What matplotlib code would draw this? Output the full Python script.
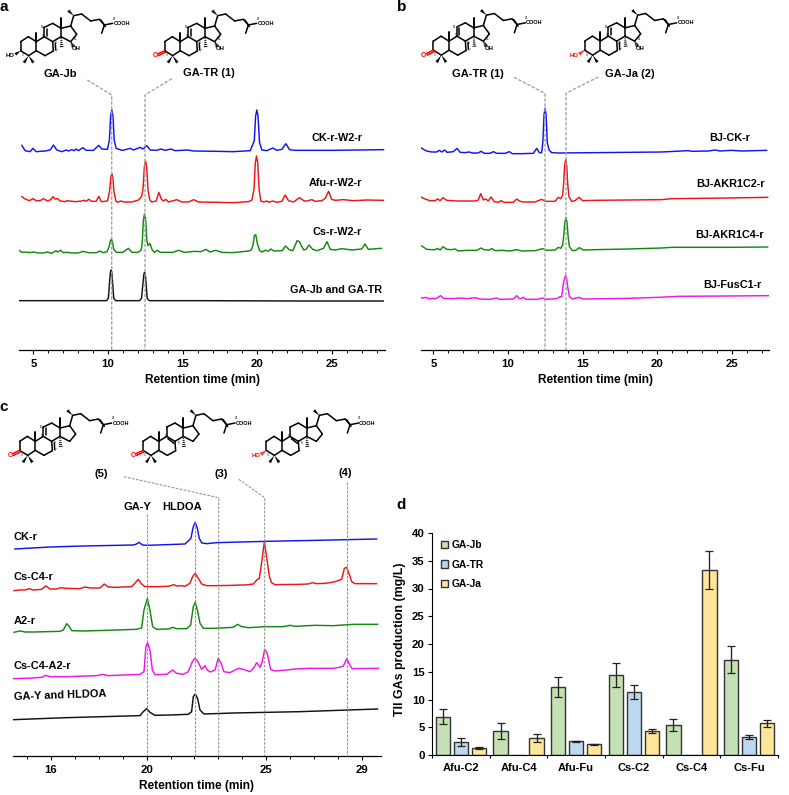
import matplotlib
matplotlib.use('Agg')
import matplotlib.pyplot as plt
from matplotlib.patches import Polygon
import numpy as np

W, H = 789, 795
plt.rcParams['font.family'] = ['Liberation Sans', 'DejaVu Sans']
plt.rcParams['font.weight'] = 'bold'

# ---------------------- panel a traces (min, signal) ---------------------- #
a_ck_rt = [4.22, 4.44, 4.78, 4.96, 5.18, 5.78, 6.12, 6.34, 6.56, 6.9, 7.19, 7.35, 7.57, 7.73, 7.86, 8.02, 8.31, 8.53, 9.02, 9.38, 9.58, 9.96, 10.09, 10.17, 10.25, 10.33, 10.41, 10.54, 10.92, 11.08, 11.48, 11.7, 12.15, 12.33, 12.6, 12.82, 13.27, 13.54, 13.83, 14.21, 14.5, 15.35, 15.73, 17.29, 18.41, 19.53, 19.8, 19.89, 19.97, 20.05, 20.15, 20.31, 20.64, 21.04, 21.31, 21.65, 21.92, 22.16, 22.54, 25.11, 28.46]
a_ck_sig = [16, 0, -3, 7, -3, -1, 2, 17, 2, -3, 2, -1, 3, 0, 5, 0, 9, 1, 1, 16, 5, 4, 32, 104, 122, 104, 32, 7, 1, 2, 7, 2, 10, 5, 15, 2, 1, 5, 1, 5, 0, 2, -1, -2, -3, 0, 30, 104, 122, 104, 25, 2, 0, 8, 1, 4, 21, 3, 1, 1, 3]
a_afu_rt = [4.22, 4.44, 4.73, 4.96, 5.18, 5.45, 5.67, 5.94, 6.16, 6.3, 6.45, 6.61, 6.79, 7.12, 7.23, 7.79, 8.24, 8.4, 8.53, 8.71, 8.91, 9.2, 9.38, 9.54, 9.96, 10.1, 10.18, 10.25, 10.32, 10.39, 10.52, 10.63, 10.85, 11.08, 11.59, 12.04, 12.24, 12.34, 12.43, 12.51, 12.59, 12.68, 12.8, 12.93, 13.22, 13.4, 13.58, 13.72, 13.87, 14.05, 14.61, 14.94, 15.39, 15.73, 16.06, 17.29, 18.41, 19.41, 19.64, 19.78, 19.87, 19.95, 20.03, 20.12, 20.24, 20.42, 20.64, 20.78, 21.04, 21.31, 21.65, 21.87, 22.09, 22.43, 22.83, 23.15, 23.32, 23.66, 23.88, 24.33, 24.55, 24.78, 24.98, 25.22, 25.78, 26.45, 27.35, 28.46]
a_afu_sig = [13, 6, 1, 7, 1, 1, 7, 0, 4, 13, 6, 7, 0, -2, 1, -2, 0, 2, -1, 5, -1, -1, 14, -2, 0, 30, 70, 83, 70, 30, 0, -4, 0, -3, -3, 3, 13, 35, 102, 120, 102, 30, 3, -3, 0, 26, 5, 0, 5, -3, 4, -3, -3, 4, -3, -4, -5, -2, 3, 35, 115, 135, 115, 35, 0, -3, 0, -4, 0, -4, -1, 18, 1, -3, 10, 0, 0, 4, -1, 1, 8, 29, 5, 2, 4, 1, 3, 2]
a_cs_rt = [4.04, 4.22, 4.44, 4.73, 5.0, 5.33, 5.67, 5.93, 6.22, 6.51, 6.62, 6.82, 7.0, 7.29, 7.56, 8.0, 8.33, 8.67, 9.22, 9.44, 9.67, 9.93, 10.07, 10.15, 10.22, 10.3, 10.38, 10.56, 11.0, 11.36, 11.6, 12.0, 12.22, 12.29, 12.37, 12.44, 12.52, 12.6, 12.67, 12.8, 12.96, 13.11, 13.31, 13.49, 14.33, 14.73, 15.11, 15.78, 16.22, 16.56, 16.82, 17.22, 17.62, 18.33, 19.44, 19.6, 19.71, 19.8, 19.9, 20.0, 20.16, 20.33, 20.56, 20.73, 20.91, 21.11, 21.67, 21.89, 22.16, 22.38, 22.67, 22.82, 23.11, 23.27, 23.47, 23.71, 24.0, 24.44, 24.67, 24.89, 25.22, 25.67, 26.33, 27.0, 27.22, 27.44, 28.33]
a_cs_sig = [6, 0, 1, -1, 1, -2, -2, 1, -3, 5, 1, 6, -1, 0, -2, -2, 3, -1, -1, 4, -1, 2, 17, 34, 40, 30, 9, 0, 0, 12, 0, 0, 7, 30, 98, 115, 98, 35, 20, 27, 7, 0, 6, 0, 0, 6, 0, 3, 2, 9, 1, 6, 0, -1, 4, 7, 20, 50, 53, 27, 5, 1, 7, 3, 10, 4, 5, 19, 7, 5, 35, 32, 7, 9, 22, 9, 5, 12, 32, 9, 7, 11, 7, 10, 25, 9, 12]
a_std_rt = [4.04, 9.89, 10.02, 10.11, 10.16, 10.2, 10.25, 10.29, 10.38, 10.51, 12.11, 12.24, 12.36, 12.4, 12.44, 12.49, 12.53, 12.62, 12.76, 16.11, 22.78, 28.44]
a_std_sig = [0, 0, 7, 62, 86, 92, 86, 62, 7, 0, 0, 7, 62, 79, 85, 79, 62, 7, 0, 0, -1, -1]

# ---------------------- panel b traces ---------------------- #
b_ck_rt = [4.17, 4.33, 4.55, 4.89, 5.22, 5.4, 5.56, 5.76, 5.92, 6.34, 6.58, 6.79, 7.12, 7.39, 7.61, 8.01, 8.19, 8.42, 8.79, 9.02, 9.24, 9.8, 10.09, 10.29, 10.92, 11.7, 11.92, 12.1, 12.25, 12.33, 12.41, 12.48, 12.55, 12.63, 12.75, 12.92, 13.37, 15.83, 18.06, 20.29, 22.08, 22.3, 23.42, 23.86, 24.2, 24.98, 25.65, 27.32]
b_ck_sig = [15, 10, 5, 2, 2, 7, 2, 8, 1, 3, 13, 1, 0, 2, -1, -1, 4, -2, -2, 3, -2, -2, 3, -3, -3, -2, 13, 0, 0, 30, 113, 133, 113, 30, 8, 0, -1, 0, 1, 2, 6, 4, 5, 8, 5, 7, 5, 7]
b_c2_rt = [4.11, 4.44, 4.78, 5.11, 5.29, 5.45, 5.65, 5.89, 6.56, 7.79, 8.01, 8.17, 8.35, 8.5, 8.68, 8.86, 9.08, 9.35, 9.53, 9.75, 10.36, 10.58, 10.8, 11.03, 11.81, 12.25, 12.52, 13.15, 13.37, 13.53, 13.66, 13.72, 13.79, 13.86, 13.93, 14.0, 14.08, 14.26, 14.49, 14.75, 15.0, 15.83, 18.06, 20.29, 20.96, 24.75, 27.39]
b_c2_sig = [13, 6, 1, 1, 6, 1, 10, 2, 0, 0, 3, 22, 3, 6, 0, 12, -2, -4, 1, -4, -4, 6, -1, -3, -3, 5, -1, -1, 11, 7, 18, 50, 106, 125, 106, 50, 13, -1, 1, 11, 1, 2, 3, 4, 7, 9, 11]
b_c4_rt = [4.11, 4.33, 4.55, 4.89, 5.11, 5.27, 5.45, 5.65, 5.89, 6.23, 6.45, 6.67, 7.23, 7.9, 8.19, 8.42, 8.57, 8.68, 8.91, 9.13, 9.58, 10.13, 10.58, 10.92, 11.81, 12.32, 12.59, 13.15, 13.37, 13.53, 13.66, 13.73, 13.81, 13.88, 13.95, 14.03, 14.11, 14.31, 14.53, 14.78, 15.04, 15.83, 18.06, 20.29, 20.96, 24.75, 27.39]
b_c4_sig = [16, 11, 4, 3, 3, 7, 2, 12, 4, 3, 5, -1, 1, 1, 8, 2, 3, 1, 6, 0, 1, -1, 3, -1, 0, 6, 1, 2, 10, 7, 17, 45, 85, 100, 85, 40, 12, 0, 1, 9, 2, 3, 5, 8, 10, 10, 11]
b_fus_rt = [4.17, 4.33, 4.49, 4.67, 5.22, 5.47, 5.69, 6.23, 6.9, 7.23, 7.79, 8.13, 8.79, 9.2, 9.46, 10.36, 10.58, 10.76, 10.87, 11.03, 11.21, 11.92, 12.32, 12.52, 13.26, 13.48, 13.59, 13.71, 13.79, 13.86, 13.93, 14.0, 14.11, 14.31, 14.75, 15.04, 16.72, 18.06, 20.07, 21.41, 24.75, 27.43]
b_fus_sig = [4, 3, 5, 1, 2, 10, 2, 1, 3, 1, 4, 0, -1, 3, -1, 0, 10, 1, 1, 5, -1, -1, 3, -1, 1, 7, 6, 47, 63, 70, 60, 35, 7, 0, 5, 0, 1, 2, 5, 8, 9, 10]

# ---------------------- panel c traces ---------------------- #
c_ck_rt = [14.5, 15.96, 17.35, 19.44, 19.55, 19.68, 19.83, 20.0, 20.84, 21.6, 21.74, 21.85, 21.95, 22.03, 22.12, 22.2, 22.31, 22.51, 22.92, 25.01, 27.1, 29.61]
c_ck_sig = [0, 6, 9, 12, 14, 20, 12, 11, 13, 15, 24, 32, 67, 80, 62, 32, 18, 16, 19, 23, 26, 30]
c_c4_rt = [14.46, 14.71, 14.92, 15.1, 15.26, 15.61, 15.79, 15.96, 16.24, 16.42, 16.63, 17.21, 17.42, 17.63, 18.05, 18.23, 18.4, 18.68, 19.37, 19.51, 19.65, 19.79, 19.93, 20.42, 20.91, 21.14, 21.25, 21.46, 21.6, 21.81, 21.92, 22.03, 22.16, 22.3, 22.51, 22.92, 23.62, 23.93, 24.11, 24.46, 24.6, 24.71, 24.82, 24.92, 25.01, 25.13, 25.22, 25.36, 26.41, 26.75, 26.94, 27.1, 27.45, 27.66, 27.87, 28.15, 28.26, 28.36, 28.45, 28.57, 28.7, 29.61]
c_c4_sig = [0, 2, 2, 6, 2, 4, 14, 5, 5, 9, 7, 6, 11, 8, 8, 20, 11, 10, 12, 22, 34, 20, 12, 12, 13, 18, 14, 15, 13, 22, 42, 52, 37, 20, 15, 15, 16, 17, 17, 20, 32, 37, 92, 147, 102, 42, 24, 18, 19, 20, 24, 21, 22, 24, 27, 34, 67, 70, 52, 27, 21, 21]
c_a2_rt = [14.46, 14.64, 14.74, 14.92, 15.26, 16.38, 16.52, 16.66, 16.77, 16.87, 17.35, 18.33, 19.58, 19.79, 19.89, 20.03, 20.14, 20.25, 20.42, 20.91, 21.09, 21.25, 21.67, 21.84, 21.95, 22.03, 22.12, 22.23, 22.37, 22.79, 23.62, 23.8, 23.97, 24.25, 25.01, 25.71, 25.99, 26.2, 27.03, 27.8, 28.64, 29.65]
c_a2_sig = [0, 3, 4, 1, 1, 3, 7, 26, 17, 5, 4, 6, 9, 13, 67, 101, 67, 17, 9, 10, 15, 11, 11, 22, 77, 90, 67, 27, 12, 12, 15, 24, 17, 14, 17, 17, 21, 18, 21, 20, 24, 24]
c_mix_rt = [14.43, 15.26, 15.61, 15.79, 15.96, 16.66, 17.91, 18.19, 18.36, 18.75, 19.72, 19.89, 19.97, 20.04, 20.14, 20.24, 20.35, 20.84, 21.09, 21.25, 21.53, 21.74, 21.91, 22.01, 22.12, 22.3, 22.44, 22.53, 22.67, 22.86, 22.99, 23.11, 23.23, 23.48, 23.69, 23.86, 24.04, 24.32, 24.46, 24.6, 24.74, 24.83, 24.93, 25.04, 25.18, 25.36, 25.85, 26.2, 26.82, 27.8, 28.05, 28.22, 28.36, 28.5, 28.59, 29.68]
c_mix_sig = [0, 2, 4, 10, 6, 6, 9, 13, 9, 10, 13, 21, 96, 108, 86, 26, 12, 13, 26, 16, 13, 21, 51, 61, 54, 28, 39, 26, 20, 26, 61, 46, 21, 18, 26, 31, 28, 21, 31, 48, 34, 51, 88, 76, 28, 23, 26, 29, 31, 31, 34, 38, 60, 40, 30, 31]
c_std_rt = [14.43, 16.66, 19.72, 19.86, 20.0, 20.14, 20.35, 20.97, 21.74, 21.88, 21.95, 22.03, 22.13, 22.23, 22.4, 23.62, 26.41, 29.65]
c_std_sig = [0, 6, 12, 24, 33, 22, 13, 14, 16, 24, 69, 77, 64, 29, 17, 20, 24, 32]

# ---------------------- panel d bars ---------------------- #
strains = ['Afu-C2', 'Afu-C4', 'Afu-Fu', 'Cs-C2', 'Cs-C4', 'Cs-Fu']
ga_jb = [6.9, 4.3, 12.2, 14.4, 5.4, 17.2]
ga_jb_err = [1.4, 1.4, 1.8, 2.1, 1.0, 2.5]
ga_tr = [2.3, 0, 2.5, 11.4, 0, 3.2]
ga_tr_err = [0.7, 0, 0.1, 1.3, 0, 0.4]
ga_ja = [1.3, 3.0, 1.9, 4.3, 33.3, 5.7]
ga_ja_err = [0.15, 0.7, 0.15, 0.4, 3.4, 0.6]


def px_axes(x0, x1, ytop, ybot):
    ax = fig.add_axes([x0 / W, 1 - ybot / H, (x1 - x0) / W, (ybot - ytop) / H])
    ax.patch.set_alpha(0)
    return ax


def trace_axes(x0, x1, ytop, ybot, xlim, majors, minors, xlabels):
    ax = px_axes(x0, x1, ytop, ybot)
    ax.set_xlim(xlim)
    ax.set_ylim(0, (ybot - ytop) * 3)
    for s in ['left', 'right', 'top']:
        ax.spines[s].set_visible(False)
    ax.spines['bottom'].set_linewidth(0.9)
    ax.set_yticks([])
    ax.set_xticks(majors)
    ax.set_xticklabels(xlabels, fontsize=8.2, fontweight='bold')
    ax.set_xticks(minors, minor=True)
    ax.tick_params(axis='x', which='major', length=3.2, width=0.8, pad=3)
    ax.tick_params(axis='x', which='minor', length=2.2, width=0.7)
    ax.set_xlabel('Retention time (min)', fontsize=8.6, fontweight='bold', labelpad=4)
    return ax


def trace(ax, rt, sig, offset, color):
    ax.plot(rt, np.array(sig) + offset, color=color, lw=1.05, solid_joinstyle='round')


# structure drawn in 3x-zoom units, px = ox + x / 3
ATOMS = {'c1': (85, 110), 'c2': (62, 125), 'c3': (62, 152), 'c4': (86, 167), 'c5': (109, 152),
         'c10': (109, 125), 'c9': (133, 110), 'c8': (158, 125), 'c7': (160, 153), 'c6': (135, 167),
         'c11': (133, 82), 'c12': (158, 70), 'c13': (183, 85), 'c14': (183, 110), 'c17': (212, 78),
         'c16': (230, 103), 'c15': (212, 125), 'c20': (221, 47), 'c22': (245, 42), 'c23': (272, 63),
         'c24': (298, 58), 'c25': (313, 75), 'c26': (338, 70)}
BONDS = [('c1', 'c2'), ('c2', 'c3'), ('c3', 'c4'), ('c4', 'c5'), ('c5', 'c10'), ('c10', 'c1'), ('c10', 'c9'),
         ('c9', 'c8'), ('c8', 'c7'), ('c7', 'c6'), ('c6', 'c5'), ('c9', 'c11'), ('c11', 'c12'), ('c12', 'c13'),
         ('c13', 'c14'), ('c14', 'c8'), ('c13', 'c17'), ('c17', 'c16'), ('c16', 'c15'), ('c15', 'c14'),
         ('c17', 'c20'), ('c20', 'c22'), ('c22', 'c23'), ('c23', 'c24'), ('c24', 'c25'), ('c25', 'c26')]


def draw_steroid(ov, ox, oy, c3='oh', ene='7,9', oh15=True):
    def P(x, y):
        return ox + x / 3, oy + y / 3

    def seg(a, b, color='k', lw=1.1):
        ov.plot([P(*a)[0], P(*b)[0]], [P(*a)[1], P(*b)[1]], color=color, lw=lw, solid_capstyle='round')

    def wedge(a, b, color='k', half=4.5):
        a, b = np.array(a, float), np.array(b, float)
        n = np.array([-(b - a)[1], (b - a)[0]])
        n = n / np.hypot(*n) * half
        ov.add_patch(Polygon([P(*a), P(*(b + n)), P(*(b - n))], closed=True, fc=color, ec='none'))

    def hash_bond(a, b, color='k'):
        a, b = np.array(a, float), np.array(b, float)
        n = np.array([-(b - a)[1], (b - a)[0]])
        n = n / np.hypot(*n)
        for t in np.linspace(0.2, 1, 5):
            m = a + (b - a) * t
            seg(m + n * 4.5 * t, m - n * 4.5 * t, color=color, lw=0.7)

    for i, j in BONDS:
        seg(ATOMS[i], ATOMS[j])
    # side chain
    seg((303, 60), (316, 80))
    seg(ATOMS['c25'], (305, 100))
    wedge(ATOMS['c20'], (205, 32))
    ov.text(*P(340, 70), 'COOH', fontsize=4.0, ha='left', va='center')
    ov.text(*P(342, 56), '26', fontsize=2.2, ha='center', va='center', fontweight='normal')
    # methyls
    seg(ATOMS['c10'], (109, 98), lw=1.4)
    seg(ATOMS['c13'], (183, 55), lw=1.4)
    hash_bond(ATOMS['c14'], (185, 140))
    wedge(ATOMS['c4'], (72, 188))
    wedge(ATOMS['c4'], (100, 188))
    # ring double bonds
    if ene == '7,9':
        seg((140, 86), (140, 107))
        seg((166, 129), (167, 150))
        ov.text(*P(126, 82), '11', fontsize=2.2, ha='center', va='center', fontweight='normal')
        ov.text(*P(170, 152), '7', fontsize=2.2, ha='center', va='center', fontweight='normal')
    else:
        seg((137, 117), (155, 131))
    ov.text(*P(129, 108), '9', fontsize=2.2, ha='center', va='center', fontweight='normal')
    ov.text(*P(168, 130), '8', fontsize=2.2, ha='center', va='center', fontweight='normal')
    # C-3 substituent
    c3x, c3y = ATOMS['c3']
    if c3 == 'oh':
        wedge((c3x, c3y), (46, 163))
        ov.text(*P(30, 167), 'HO', fontsize=4.3, ha='center', va='center')
    elif c3 == 'oh_red':
        hash_bond((c3x, c3y), (47, 163), color='red')
        ov.text(*P(30, 167), 'HO', fontsize=4.3, ha='center', va='center', color='red')
    else:
        seg((c3x, c3y), (41, 162), color='red')
        seg((c3x + 2, c3y + 5), (43, 167), color='red')
        ov.text(*P(33, 167), 'O', fontsize=4.8, ha='center', va='center', color='red')
    ov.text(*P(67, 165), '3', fontsize=2.2, ha='center', va='center', fontweight='normal')
    if oh15:
        hash_bond(ATOMS['c15'], (220, 139))
        ov.text(*P(228, 147), 'OH', fontsize=4.3, ha='center', va='center')
        ov.text(*P(225, 118), '15', fontsize=2.2, ha='center', va='center', fontweight='normal')


fig = plt.figure(figsize=(W / 100, H / 100), dpi=100, facecolor='white')

# ------------------------------- panel a ---------------------- #
ax_a = trace_axes(19, 385, 90, 350, (4.03, 28.56), [5, 10, 15, 20, 25],
                  [t for t in range(5, 29) if t % 5], ['5', '10', '15', '20', '25'])
trace(ax_a, a_ck_rt, a_ck_sig, 598, '#1414f0')
trace(ax_a, a_afu_rt, a_afu_sig, 447, '#f01414')
trace(ax_a, a_cs_rt, a_cs_sig, 293, '#118a11')
trace(ax_a, a_std_rt, a_std_sig, 148, '#111111')

# ------------------------------- panel b ---------------------- #
ax_b = trace_axes(421, 769, 90, 350, (4.17, 27.48), [5, 10, 15, 20, 25],
                  [t for t in range(5, 28) if t % 5], ['5', '10', '15', '20', '25'])
trace(ax_b, b_ck_rt, b_ck_sig, 592, '#1414f0')
trace(ax_b, b_c2_rt, b_c2_sig, 447, '#f01414')
trace(ax_b, b_c4_rt, b_c4_sig, 298, '#118a11')
trace(ax_b, b_fus_rt, b_fus_sig, 153, '#f014f0')

# ------------------------------- panel c ---------------------- #
ax_c = trace_axes(13.3, 380.7, 490, 756, (14.43, 29.78), [16, 20, 25, 29],
                  [15, 17, 18, 19, 21, 22, 23, 24, 26, 27, 28], ['16', '20', '25', '29'])
trace(ax_c, c_ck_rt, c_ck_sig, 621, '#1414f0')
trace(ax_c, c_c4_rt, c_c4_sig, 496, '#f01414')
trace(ax_c, c_a2_rt, c_a2_sig, 371, '#118a11')
trace(ax_c, c_mix_rt, c_mix_sig, 232, '#f014f0')
trace(ax_c, c_std_rt, c_std_sig, 109, '#111111')

# ------------------------------- panel d ---------------------- #
ax_d = px_axes(432.3, 777.7, 533, 755)
pos = np.arange(len(strains))
offs = [-0.3125, 0, 0.3125]
for vals, errs, col, name, off in zip([ga_jb, ga_tr, ga_ja], [ga_jb_err, ga_tr_err, ga_ja_err],
                                      ['#C5E0B4', '#BDD7EE', '#FFE699'], ['GA-Jb', 'GA-TR', 'GA-Ja'], offs):
    ax_d.bar(pos + off + 0.5, vals, width=0.25, color=col, edgecolor='#333333', linewidth=1.0, label=name)
    keep = np.array(vals) > 0
    ax_d.errorbar((pos + off + 0.5)[keep], np.array(vals)[keep], yerr=np.array(errs)[keep], fmt='none',
                  ecolor='#222222', elinewidth=0.95, capsize=2.6, capthick=0.9)
ax_d.set_xlim(0, 6)
ax_d.set_ylim(0, 40)
ax_d.set_yticks(range(0, 41, 5))
ax_d.set_xticks(range(7))
ax_d.set_xticklabels([])
ax_d.set_xticks(pos + 0.5, minor=True)
ax_d.set_xticklabels(strains, minor=True, fontsize=8, fontweight='bold')
ax_d.tick_params(axis='x', which='minor', length=0, pad=6)
ax_d.tick_params(axis='x', which='major', length=2.4, width=0.8)
ax_d.tick_params(axis='y', length=2.9, width=0.8, pad=2.5, labelsize=8.2)
for lab in ax_d.get_yticklabels():
    lab.set_fontweight('bold')
for s in ['right', 'top']:
    ax_d.spines[s].set_visible(False)
ax_d.legend(loc='upper left', bbox_to_anchor=(0.014, 0.985), frameon=False, fontsize=7.4, labelspacing=0.9,
            handlelength=0.7, handleheight=0.7, handletextpad=0.3, borderaxespad=0)

# ------------------------ overlay in pixels: text, dashes, structures ---------------------- #
ov = fig.add_axes([0, 0, 1, 1])
ov.set_xlim(0, W)
ov.set_ylim(H, 0)
ov.axis('off')
ov.patch.set_alpha(0)

dash = dict(color='#a3a3a3', lw=1.0, ls=(0, (2.4, 1.2)))
ov.plot([87.3, 111.7, 111.7], [80, 95, 350], **dash)
ov.plot([171.7, 145, 145], [78.7, 95, 350], **dash)
ov.plot([514, 545, 545], [77.3, 93.3, 350], **dash)
ov.plot([598.3, 566, 566], [77, 93.3, 350], **dash)
dash_c = dict(color='#909090', lw=0.75, ls=(0, (2.6, 1.3)))
ov.plot([124, 218.7, 218.7], [476.7, 497.7, 756], **dash_c)
ov.plot([238.7, 264.7, 264.7], [479.3, 497.7, 756], **dash_c)
ov.plot([346.7, 346.7], [482.3, 756], **dash_c)
ov.plot([147, 147], [514, 756], **dash_c)
ov.plot([195.3, 195.3], [522, 756], **dash_c)

draw_steroid(ov, 0, 0, c3='oh')
draw_steroid(ov, 144, 0, c3='keto')
draw_steroid(ov, 412.7, -0.5, c3='keto')
draw_steroid(ov, 564, -0.5, c3='oh_red')
draw_steroid(ov, -1, 399.7, c3='keto', oh15=False)
draw_steroid(ov, 122.3, 399.7, c3='keto', ene='8', oh15=False)
draw_steroid(ov, 245.7, 399.7, c3='oh_red', ene='8', oh15=False)

big = 8.0
for x, y, s in [(60.5, 74.3, 'GA-Jb'), (208.7, 73.3, 'GA-TR (1)'), (477.7, 73.7, 'GA-TR (1)'), (630, 73.7, 'GA-Ja (2)'),
                (101, 474.3, '(5)'), (221, 474.3, '(3)'), (345.3, 473.3, '(4)'), (137.3, 506.7, 'GA-Y'),
                (181.7, 506.7, 'HLDOA')]:
    ov.text(x, y, s, fontsize=big, ha='center', va='center')
for x, y, s in [(337.3, 138.3, 'CK-r-W2-r'), (335.7, 183.3, 'Afu-r-W2-r'), (337.3, 232.3, 'Cs-r-W2-r'),
                (335.7, 290.3, 'GA-Jb and GA-TR'), (730, 138.3, 'BJ-CK-r'), (730.7, 184.3, 'BJ-AKR1C2-r'),
                (730, 234.7, 'BJ-AKR1C4-r'), (732, 285.3, 'BJ-FusC1-r')]:
    ov.text(x, y, s, fontsize=7.8, ha='center', va='center')
for y, s in [(537.3, 'CK-r'), (577.3, 'Cs-C4-r'), (620.7, 'A2-r'), (666, 'Cs-C4-A2-r')]:
    ov.text(14, y, s, fontsize=7.9, ha='left', va='center')
ov.text(14, 697.3, 'GA-Y and HLDOA', fontsize=7.9, ha='left', va='center', rotation=2, rotation_mode='anchor')
for x, y, s in [(4, 7, 'a'), (402, 7, 'b'), (4, 407, 'c'), (401, 505, 'd')]:
    ov.text(x, y, s, fontsize=11, ha='center', va='center')
ov.text(400, 639, 'TII GAs production (mg/L)', fontsize=8.9, rotation=90, ha='center', va='center')

fig.savefig('out.png', dpi=100)
